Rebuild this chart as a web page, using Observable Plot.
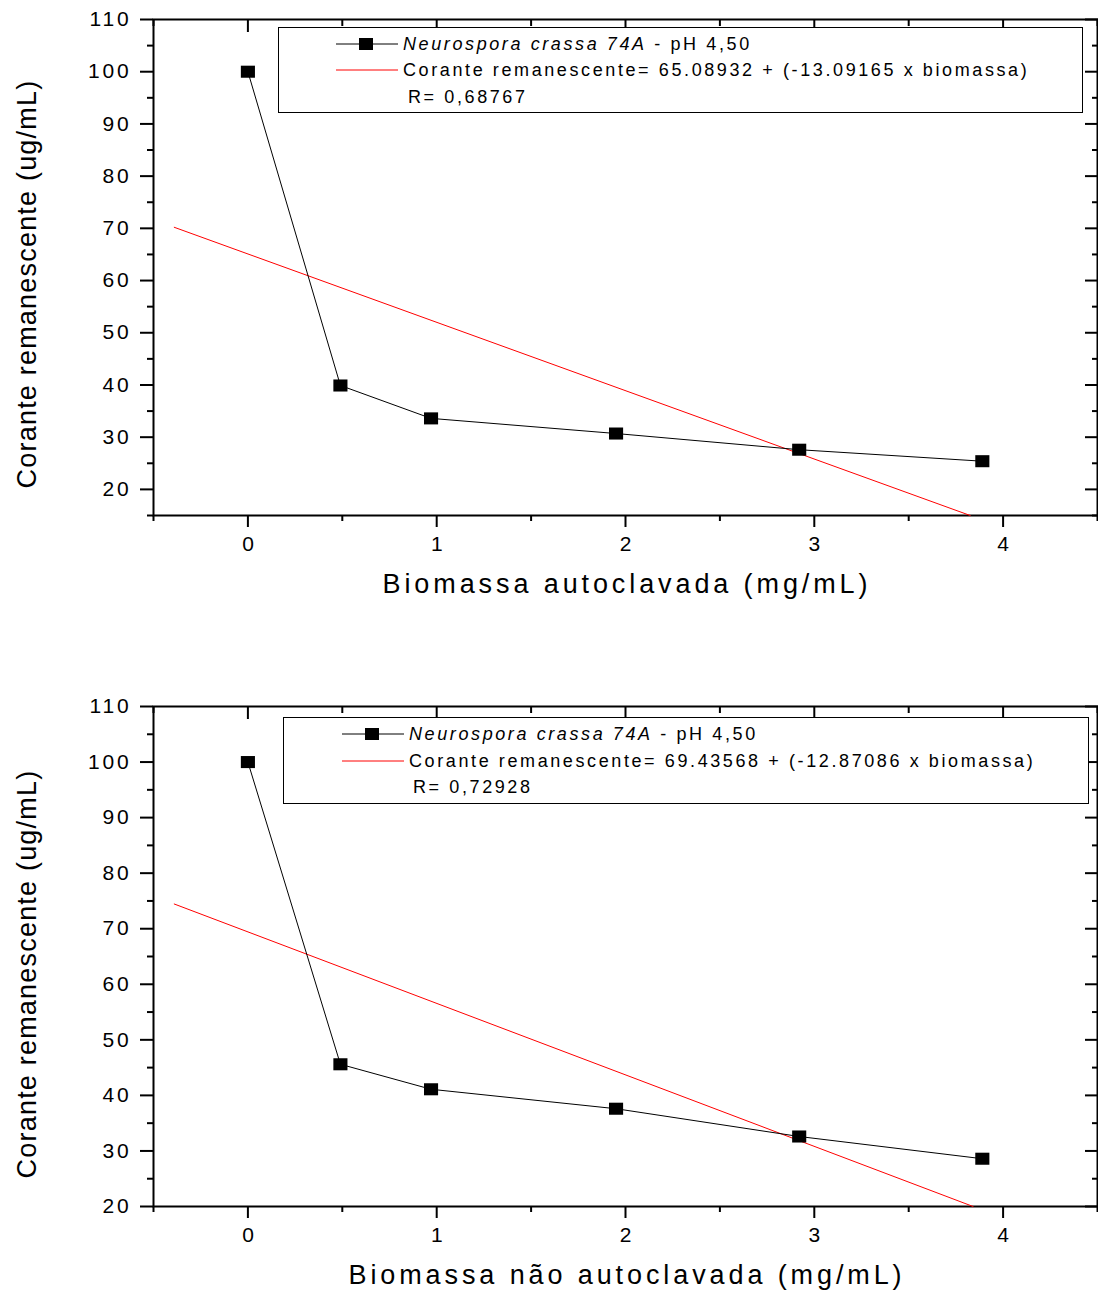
<!DOCTYPE html>
<html>
<head>
<meta charset="utf-8">
<script src="https://cdn.jsdelivr.net/npm/d3@7"></script>
<script src="https://cdn.jsdelivr.net/npm/@observablehq/plot@0.6"></script>
<style>
  html, body { margin: 0; padding: 0; background: #fff; }
  #wrap { position: relative; width: 1098px; height: 1293px; overflow: hidden; font-family: Arial, "Liberation Sans", sans-serif; color: #000; }
  #wrap svg.plotsvg { position: absolute; left: 0; }
  .xtitle { position: absolute; left: 153px; width: 944px; text-align: center; font-size: 27px; letter-spacing: 3.9px; line-height: 30px; padding-left: 4px; box-sizing: border-box; }
  .ytitle { position: absolute; left: 27px; white-space: nowrap; font-size: 27px; letter-spacing: 1.2px; line-height: 30px; transform: translate(-50%, -50%) rotate(-90deg); }
  .legend { position: absolute; border: 1.5px solid #000; background: #fff; box-sizing: border-box; }
  .legend .row { position: absolute; white-space: nowrap; font-size: 18px; letter-spacing: 2.6px; line-height: 20px; }
  .legend svg { position: absolute; }
</style>
</head>
<body>
<div id="wrap"></div>
<script>
// ---- data ----
const biomassaAutoclavada = [0, 0.49, 0.97, 1.95, 2.92, 3.89];
const coranteAutoclavada = [100, 39.9, 33.6, 30.7, 27.6, 25.4];
const ajusteAutoX = [-0.39, 3.826];
const ajusteAutoY = [70.2, 15];

const biomassaNaoAutoclavada = [0, 0.49, 0.97, 1.95, 2.92, 3.89];
const coranteNaoAutoclavada = [100, 45.6, 41.1, 37.6, 32.6, 28.6];
const ajusteNaoX = [-0.39, 3.841];
const ajusteNaoY = [74.45, 20];

const xMajorTicks = [0, 1, 2, 3, 4];
const xMinorTicks = [-0.5, 0.5, 1.5, 2.5, 3.5, 4.5];
const yMajorTicks = [20, 30, 40, 50, 60, 70, 80, 90, 100, 110];
const yMinorTicksTop = [15, 25, 35, 45, 55, 65, 75, 85, 95, 105];
const yMinorTicksBottom = [25, 35, 45, 55, 65, 75, 85, 95, 105];

const seriesName = "Neurospora crassa 74A";
const seriesSuffix = " - pH 4,50";
const eqAuto = "Corante remanescente= 65.08932 + (-13.09165 x biomassa)";
const rAuto = "R= 0,68767";
const eqNao = "Corante remanescente= 69.43568 + (-12.87086 x biomassa)";
const rNao = "R= 0,72928";
const xTitleAuto = "Biomassa autoclavada (mg/mL)";
const xTitleNao = "Biomassa não autoclavada (mg/mL)";
const yTitle = "Corante remanescente (ug/mL)";

// a slightly wide square, as in the reference
const boxSymbol = {
  draw(context, size) {
    const h = Math.sqrt(size);
    const w = h * 1.17;
    context.rect(-w / 2, -h / 2, w, h);
  }
};

const wrap = document.getElementById("wrap");

function panel({top, height, marginTop, marginBottom, yDomain, yMinor, xs, ys, fx, fy}) {
  const pts = xs.map((x, i) => ({x, y: ys[i]}));
  const fit = fx.map((x, i) => ({x, y: fy[i]}));
  const empty = () => "";
  const plain = d => String(d);
  const chart = Plot.plot({
    width: 1098,
    height,
    marginLeft: 153,
    marginRight: 1,
    marginTop,
    marginBottom,
    x: {domain: [-0.5, 4.5]},
    y: {domain: yDomain},
    style: {fontFamily: "Arial, 'Liberation Sans', sans-serif", fontSize: "21px", letterSpacing: "2.8px", color: "black", background: "white", overflow: "visible"},
    marks: [
      Plot.frame({stroke: "black", strokeWidth: 2}),
      // left axis
      Plot.axisY(yMajorTicks, {anchor: "left", tickSize: 13, tickPadding: 9, strokeWidth: 2, tickFormat: plain, label: null, fontSize: 21}),
      Plot.axisY(yMinor, {anchor: "left", tickSize: 6, strokeWidth: 2, tickFormat: empty, label: null}),
      // right axis (inward ticks)
      Plot.axisY(yMajorTicks, {anchor: "right", tickSize: 13, dx: -13, strokeWidth: 2, tickFormat: empty, label: null}),
      Plot.axisY(yMinor, {anchor: "right", tickSize: 6, dx: -6, strokeWidth: 2, tickFormat: empty, label: null}),
      // bottom axis
      Plot.axisX(xMajorTicks, {anchor: "bottom", tickSize: 12, strokeWidth: 2, tickFormat: empty, label: null}),
      Plot.axisX(xMinorTicks, {anchor: "bottom", tickSize: 6, strokeWidth: 2, tickFormat: empty, label: null}),
      Plot.axisX(xMajorTicks, {anchor: "bottom", tickSize: 0, tickPadding: 21, dx: 1.5, tickFormat: plain, label: null, fontSize: 21}),
      // top axis (inward ticks)
      Plot.axisX(xMajorTicks, {anchor: "top", tickSize: 12, dy: 12, strokeWidth: 2, tickFormat: empty, label: null}),
      Plot.axisX(xMinorTicks, {anchor: "top", tickSize: 6, dy: 6, strokeWidth: 2, tickFormat: empty, label: null}),
      // regression line
      Plot.line(fit, {x: "x", y: "y", stroke: "#ff0000", strokeWidth: 1}),
      // data
      Plot.line(pts, {x: "x", y: "y", stroke: "black", strokeWidth: 1}),
      Plot.dot(pts, {x: "x", y: "y", symbol: boxSymbol, r: 6.8, fill: "black", stroke: "none"})
    ]
  });
  chart.classList.add("plotsvg");
  chart.style.top = top + "px";
  wrap.appendChild(chart);
}

panel({top: 0, height: 640, marginTop: 19, marginBottom: 125, yDomain: [15, 110], yMinor: yMinorTicksTop,
  xs: biomassaAutoclavada, ys: coranteAutoclavada, fx: ajusteAutoX, fy: ajusteAutoY});
panel({top: 640, height: 653, marginTop: 66, marginBottom: 87, yDomain: [20, 110], yMinor: yMinorTicksBottom,
  xs: biomassaNaoAutoclavada, ys: coranteNaoAutoclavada, fx: ajusteNaoX, fy: ajusteNaoY});

function addDiv(cls, text, styles) {
  const d = document.createElement("div");
  d.className = cls;
  d.textContent = text;
  Object.assign(d.style, styles);
  wrap.appendChild(d);
  return d;
}

addDiv("xtitle", xTitleAuto, {top: "569px"});
addDiv("xtitle", xTitleNao, {top: "1260px"});
addDiv("ytitle", yTitle, {top: "284px"});
addDiv("ytitle", yTitle, {top: "974px"});

function legend({left, top, width, height, textLeft, rLeft, rows, eq, r}) {
  const box = document.createElement("div");
  box.className = "legend";
  Object.assign(box.style, {left: left + "px", top: top + "px", width: width + "px", height: height + "px"});
  const ns = "http://www.w3.org/2000/svg";
  const s1 = document.createElementNS(ns, "svg");
  s1.setAttribute("width", 64); s1.setAttribute("height", 16);
  Object.assign(s1.style, {left: (textLeft - 67) + "px", top: (rows[0] - 8) + "px"});
  s1.innerHTML = '<line x1="0" y1="8" x2="62" y2="8" stroke="black" stroke-width="1"/><rect x="23" y="2" width="14" height="12" fill="black"/>';
  box.appendChild(s1);
  const s2 = document.createElementNS(ns, "svg");
  s2.setAttribute("width", 64); s2.setAttribute("height", 16);
  Object.assign(s2.style, {left: (textLeft - 67) + "px", top: (rows[1] - 8) + "px"});
  s2.innerHTML = '<line x1="0" y1="8" x2="62" y2="8" stroke="#ff0000" stroke-width="1"/>';
  box.appendChild(s2);

  const r1 = document.createElement("div");
  r1.className = "row";
  Object.assign(r1.style, {left: textLeft + "px", top: (rows[0] - 10) + "px"});
  const it = document.createElement("i");
  it.textContent = seriesName;
  r1.appendChild(it);
  r1.appendChild(document.createTextNode(seriesSuffix));
  box.appendChild(r1);

  const r2 = document.createElement("div");
  r2.className = "row";
  r2.textContent = eq;
  Object.assign(r2.style, {left: textLeft + "px", top: (rows[1] - 10) + "px"});
  box.appendChild(r2);

  const r3 = document.createElement("div");
  r3.className = "row";
  r3.textContent = r;
  Object.assign(r3.style, {left: rLeft + "px", top: (rows[2] - 10) + "px"});
  box.appendChild(r3);
  wrap.appendChild(box);
}

legend({left: 278, top: 27, width: 805, height: 86, textLeft: 124, rLeft: 129, rows: [16, 42, 69], eq: eqAuto, r: rAuto});
legend({left: 283, top: 717, width: 806, height: 87, textLeft: 125, rLeft: 129, rows: [16, 43, 69], eq: eqNao, r: rNao});
</script>
</body>
</html>
